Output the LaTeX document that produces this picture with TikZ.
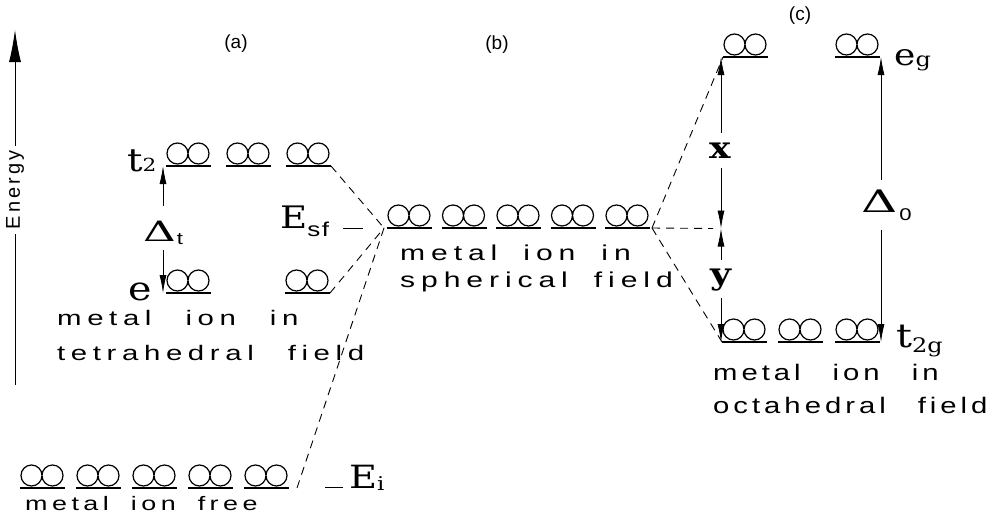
\documentclass[tikz,border=0pt]{standalone}
\usepackage{graphicx}
\usepackage{fontspec}
\setmainfont{Liberation Sans}
\newfontfamily\ser[FakeStretch=1.2]{DejaVu Serif}
\newfontfamily\sta[FakeStretch=1.4,LetterSpace=26.7]{Liberation Sans}
\newfontfamily\stb[FakeStretch=1.4,LetterSpace=27.5]{Liberation Sans}
\newfontfamily\stc[FakeStretch=1.3,LetterSpace=17.8]{Liberation Sans}
\newfontfamily\stf[FakeStretch=1.38,LetterSpace=23]{Liberation Sans}
\newfontfamily\lsE[LetterSpace=15]{Liberation Sans}
\newfontfamily\subs[FakeStretch=1.3,LetterSpace=8]{Liberation Sans}
\usetikzlibrary{arrows.meta,calc}
\begin{document}
\begin{tikzpicture}[x=1pt,y=-1pt,
  orbline/.style={line width=2.6pt},
  circ/.style={line width=1.2pt},
  dsh/.style={dash pattern=on 8pt off 6pt, line width=0.9pt},
  arr/.style={-{Latex[length=18pt,width=7pt]}, line width=0.8pt},
  txt/.style={anchor=base west, inner sep=0pt},
  orb/.pic={
    \draw[orbline] (0,0) coordinate (-L) -- (45,0) coordinate (-R);
    \draw[circ] (11.5,-12.5) circle[radius=10.5] (32.5,-12.5) circle[radius=10.5];
  }]
\useasboundingbox (0,0) rectangle (990,522);

% Energy axis
\node[rotate=90, inner xsep=5pt, inner ysep=0pt] (en) at (15,190) {\lsE\fontsize{20}{20}\selectfont Energy};
\coordinate (etop) at (15,30);
\coordinate (ebot) at (15,385);
\draw[line width=0.9pt, -{Latex[length=32pt,width=12pt]}] (en.east) -- (etop);
\draw[line width=0.9pt] (en.west) -- (ebot);

% panel labels
\node (la) at (236,44) {\fontsize{19}{19}\selectfont (a)};
\node (lb) at (497,45) {\fontsize{19}{19}\selectfont (b)};
\node (lc) at (800,16) {\fontsize{19}{19}\selectfont (c)};

% (a) tetrahedral
\pic (a1) at (166,166) {orb};
\pic (a2) at (226,166) {orb};
\pic (a3) at (286,166) {orb};
\pic (ae1) at (166,293) {orb};
\pic (ae2) at (285,293) {orb};
\node[txt] (t2l) at (127,171) {\ser\fontsize{32}{32}\selectfont t{\fontsize{18}{18}\selectfont 2}};
\node[txt] (el) at (128,300) {\ser\fontsize{33}{33}\selectfont e};
\node[txt] (dtl) at (143,241) {{\ser\fontsize{28}{28}\selectfont\scalebox{1.35}[1]{Δ}}\hspace{1pt}\raisebox{-3pt}{\subs\fontsize{17}{17}\selectfont t}};
\coordinate (dtU) at (163,206);
\coordinate (dtD) at (163,250);
\draw[arr] (dtU) -- (dtU |- a1-L);
\draw[arr] (dtD) -- (dtD |- ae1-L);
\node[txt] (ta1) at (57,325) {\sta\fontsize{21}{21}\selectfont metal\hspace{34pt}ion\hspace{34pt}in};
\node[txt] (ta2) at (57,360) {\sta\fontsize{21}{21}\selectfont tetrahedral\hspace{34pt}field};

% (b) spherical
\pic (b1) at (387,228) {orb};
\pic (b2) at (441.5,228) {orb};
\pic (b3) at (496,228) {orb};
\pic (b4) at (550.5,228) {orb};
\pic (b5) at (605,228) {orb};
\node[txt] (esf) at (280,228) {\ser\fontsize{31}{31}\selectfont E\raisebox{-8pt}{\subs\fontsize{20}{20}\selectfont sf}};
\draw[line width=1.2pt] (343,228.5) -- (363,228.5);
\node[txt] (tb1) at (400,260) {\stb\fontsize{21.5}{21.5}\selectfont metal\hspace{26pt}ion\hspace{26pt}in};
\node[txt] (tb2) at (400,287) {\stb\fontsize{21.5}{21.5}\selectfont spherical\hspace{26pt}field};

% (c) octahedral
\pic (eg1) at (723,57) {orb};
\pic (eg2) at (835,57) {orb};
\pic (t1) at (722,342) {orb};
\pic (t2) at (778,342) {orb};
\pic (t3) at (835,342) {orb};
\node[txt] (egl) at (894,65) {\ser\fontsize{30}{30}\selectfont e\raisebox{-1pt}{\fontsize{20}{20}\selectfont g}};
\node[txt] (t2gl) at (896,347) {\ser\fontsize{33}{33}\selectfont t\raisebox{-5pt}{\fontsize{20}{20}\selectfont 2g}};
\node[txt] (xl) at (709,158) {\ser\bfseries\fontsize{30}{30}\selectfont x};
\node[txt] (yl) at (710,284) {\ser\bfseries\fontsize{30}{30}\selectfont y};
\node[txt] (d0) at (861,212) {{\ser\fontsize{31}{31}\selectfont\scalebox{1.35}[1]{Δ}}\hspace{2pt}\raisebox{-8pt}{\subs\fontsize{17}{17}\selectfont 0}};
\coordinate (xU) at (721,133);
\coordinate (xD) at (721,168);
\coordinate (mid) at (721,228.5);
\coordinate (yU) at (721,260);
\coordinate (yD) at (721,298);
\draw[arr] (xU) -- (xU |- eg1-L);
\draw[arr] (xD) -- (mid);
\draw[arr] (yU) -- (mid);
\draw[arr] (yD) -- (yD |- t1-L);
\coordinate (dU) at (881,180);
\coordinate (dD) at (881,230);
\draw[arr] (dU) -- (dU |- eg2-L);
\draw[arr] (dD) -- (dD |- t3-L);
\node[txt] (tc1) at (713,380) {\stc\fontsize{22.5}{22.5}\selectfont metal\hspace{32pt}ion\hspace{32pt}in};
\node[txt] (tc2) at (713,413) {\stc\fontsize{22.5}{22.5}\selectfont octahedral\hspace{32pt}field};

% free ion
\pic (f1) at (20,488) {orb};
\pic (f2) at (76,488) {orb};
\pic (f3) at (132,488) {orb};
\pic (f4) at (188,488) {orb};
\pic (f5) at (244,488) {orb};
\node[txt] (ei) at (349,488) {\ser\fontsize{32}{32}\selectfont E\raisebox{-2pt}{\fontsize{19}{19}\selectfont i}};
\draw[line width=1.2pt] (325,487.5) -- (343,487.5);
\node[txt] (tf) at (25,510) {\stf\fontsize{19.5}{19.5}\selectfont metal\hspace{22pt}ion\hspace{22pt}free};

% dashed correlation lines
\coordinate (P1) at (384,228);
\coordinate (P2) at (652,228);
\coordinate (fE) at (297,488);
\coordinate (hE) at (713,228.5);
\draw[dsh] (a3-R) -- (P1);
\draw[dsh] (ae2-R) -- (P1);
\draw[dsh] (fE) -- (P1);
\draw[dsh] (P2) -- (eg1-L);
\draw[dsh] (P2) -- (hE);
\draw[dsh] (P2) -- (t1-L);
\end{tikzpicture}
\end{document}
